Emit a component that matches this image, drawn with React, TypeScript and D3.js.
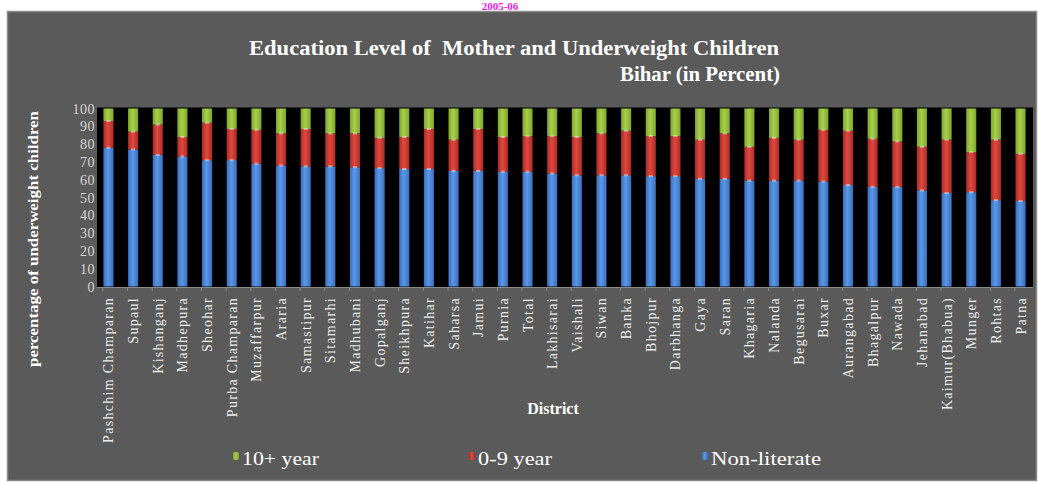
import React from "react";
import * as d3 from "d3";

const districts = [
  "Pashchim Champaran", "Supaul", "Kishanganj", "Madhepura", "Sheohar", "Purba Champaran",
  "Muzaffarpur", "Araria", "Samastipur", "Sitamarhi", "Madhubani", "Gopalganj", "Sheikhpura",
  "Katihar", "Saharsa", "Jamui", "Purnia", "Total", "Lakhisarai", "Vaishali", "Siwan", "Banka",
  "Bhojpur", "Darbhanga", "Gaya", "Saran", "Khagaria", "Nalanda", "Begusarai", "Buxar",
  "Aurangabad", "Bhagalpur", "Nawada", "Jehanabad", "Kaimur(Bhabua)", "Munger", "Rohtas", "Patna",
];

const nonLiterate = [
  78, 77, 74, 73, 71, 71, 69, 68, 67.5, 67.5, 67, 66.5, 66, 66, 65, 65, 64.5, 64.5, 63.5,
  62.5, 62.5, 62.5, 62, 62, 60.5, 60.5, 59.5, 59.5, 59.5, 59, 57, 56, 56, 54, 52.5, 53, 48.5, 48,
];
const upTo9 = [
  15, 10, 17, 11, 21, 17.5, 19, 18, 21, 18.5, 19, 17, 18, 22.5, 17.5, 23.5, 19.5, 20, 21,
  21.5, 23.5, 25, 22.5, 22.5, 22, 25.5, 19, 24, 23, 29, 30.5, 27, 25.5, 24.5, 30, 22.5, 34, 26.5,
];
const tenPlus = [
  7, 13, 9, 16, 8, 11.5, 12, 14, 11.5, 14, 14, 16.5, 16, 11.5, 17.5, 11.5, 16, 15.5, 15.5,
  16, 14, 12.5, 15.5, 15.5, 17.5, 14, 21.5, 16.5, 17.5, 12, 12.5, 17, 18.5, 21.5, 17.5, 24.5, 17.5, 25.5,
];
const yTicks = [0, 10, 20, 30, 40, 50, 60, 70, 80, 90, 100];

const seriesKeys = ["nl", "u9", "t10"];
const seriesNames: Record<string, string> = { nl: "Non-literate", u9: "0-9 year", t10: "10+ year" };
const colors: Record<string, [string, string]> = {
  nl: ["#3a6fbf", "#5a98e6"],
  u9: ["#b02a25", "#dc4a40"],
  t10: ["#7fa62c", "#a8d04c"],
};

export default function App() {
  const W = 1038, H = 482;
  const rows = districts.map((d, i) => ({ d, nl: nonLiterate[i], u9: upTo9[i], t10: tenPlus[i] }));
  const stack = d3.stack<any>().keys(seriesKeys)(rows);
  const x = d3.scaleBand<string>().domain(districts).range([97, 1032]).paddingInner(0.59).paddingOuter(0.26);
  const y = d3.scaleLinear().domain([0, 100]).range([286.5, 108.5]);
  const serif = "'Liberation Serif', 'DejaVu Serif', serif";

  const legend = [
    { k: "t10", x: 236, len: 77 },
    { k: "u9", x: 472, len: 74 },
    { k: "nl", x: 705, len: 110 },
  ];

  return (
    <svg width={W} height={H} style={{ position: "absolute", left: 0, top: 0, background: "#fff" }}>
      <defs>
        {seriesKeys.map((k) => (
          <linearGradient key={k} id={"g-" + k} x1="0" x2="1" y1="0" y2="0">
            <stop offset="0" stopColor={colors[k][0]} />
            <stop offset="0.45" stopColor={colors[k][1]} />
            <stop offset="1" stopColor={colors[k][0]} />
          </linearGradient>
        ))}
      </defs>
      <text x={500} y={10} textAnchor="middle" fontFamily={serif} fontWeight="bold" fontSize={11} fill="#e81ee8">
        2005-06
      </text>
      <rect x={7.5} y={11.5} width={1029} height={469} fill="#5a5a5a" stroke="#8c8c8c" strokeWidth={1.5} />
      <text x={514} y={55} textAnchor="middle" fontFamily={serif} fontWeight="bold" fontSize={20} fill="#ffffff"
        textLength={530} lengthAdjust="spacingAndGlyphs" style={{ whiteSpace: "pre" }}>
        Education Level of  Mother and Underweight Children
      </text>
      <text x={780} y={81} textAnchor="end" fontFamily={serif} fontWeight="bold" fontSize={20} fill="#ffffff"
        textLength={160} lengthAdjust="spacingAndGlyphs">
        Bihar (in Percent)
      </text>
      <rect x={97} y={107.5} width={936} height={179.5} fill="#000" />
      {stack.map((s) => (
        <g key={s.key} fill={`url(#g-${s.key})`}>
          {s.map((p, i) => (
            <rect key={i} x={x(districts[i])} y={y(p[1])} width={x.bandwidth()} height={y(p[0]) - y(p[1])} />
          ))}
        </g>
      ))}
      {stack.slice(0, 2).map((s) => (
        <g key={"h" + s.key} fill="#e8e8e8" opacity={0.55}>
          {s.map((p, i) => (
            <rect key={i} x={(x(districts[i]) as number) + 3} y={y(p[1]) - 1} width={x.bandwidth() - 6} height={2} />
          ))}
        </g>
      ))}
      <line x1={97} x2={1033} y1={287.5} y2={287.5} stroke="#8a8a8a" strokeWidth={1} />
      {districts.map((d, i) => (
        <line key={d} x1={97 + i * x.step() + x.step() * 0.26 - 0.5} x2={97 + i * x.step() + x.step() * 0.26 - 0.5}
          y1={287} y2={291} stroke="#8a8a8a" strokeWidth={1} />
      ))}
      {yTicks.map((t) => (
        <text key={t} x={95} y={y(t) + 5} textAnchor="end" fontFamily={serif} fontSize={14} fill="#d6d6d6" letterSpacing={0.5}>
          {t}
        </text>
      ))}
      <text transform={`translate(38,239) rotate(-90)`} textAnchor="middle" fontFamily={serif} fontWeight="bold"
        fontSize={15} fill="#ffffff" textLength={256} lengthAdjust="spacingAndGlyphs">
        percentage of underweight children
      </text>
      {districts.map((d) => (
        <text key={d} transform={`translate(${(x(d) as number) + x.bandwidth() / 2 + 5},297) rotate(-90)`}
          textAnchor="end" fontFamily={serif} fontSize={14} fill="#ececec" letterSpacing={1.3}>
          {d}
        </text>
      ))}
      <text x={553} y={414} textAnchor="middle" fontFamily={serif} fontWeight="bold" fontSize={16} fill="#ffffff">
        District
      </text>
      {legend.map((l) => (
        <g key={l.k}>
          <rect x={l.x - 3} y={452} width={6} height={8} rx={2} fill={`url(#g-${l.k})`} />
          <text x={l.x + 6} y={465} fontFamily={serif} fontSize={19} fill="#ffffff"
            textLength={l.len} lengthAdjust="spacingAndGlyphs">
            {seriesNames[l.k]}
          </text>
        </g>
      ))}
    </svg>
  );
}
